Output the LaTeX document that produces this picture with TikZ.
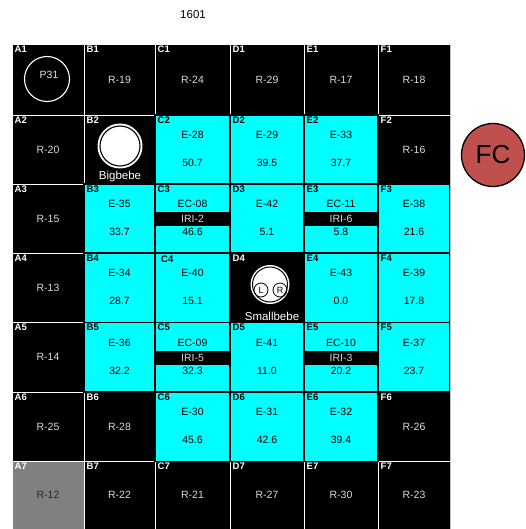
\documentclass[tikz,border=0pt]{standalone}
\usepackage{fontspec}
\setmainfont{Liberation Sans}
\definecolor{fcred}{HTML}{C0504D}
\definecolor{rgray}{HTML}{DADADA}
\definecolor{cellgray}{HTML}{808080}
\definecolor{aqua}{RGB}{0,255,255}
\newcommand\mycell[7]{%
  \node[cellbase,#6,minimum width=#4pt,minimum height=#5pt,anchor=north west] (#1) at (#2,#3) {};
  \node[#7,anchor=north west] (#1l) at ([xshift=2.5pt,yshift=-1.5pt]#1.north west) {#1};}
\newcommand\mycellnl[6]{%
  \node[cellbase,#6,minimum width=#4pt,minimum height=#5pt,anchor=north west] (#1) at (#2,#3) {};}
\newcommand\rtext[2]{\node[rtxt] (#1t) at (#1.center) {#2};}
\newcommand\etext[3]{%
  \node[etxt] (#1t) at ([yshift=-20pt]#1.north) {#2};
  \node[etxt] (#1v) at ([yshift=-48pt]#1.north) {#3};}
\newcommand\ectext[5]{% name, EC, IRI, value, width
  \node[etxt] (#1t) at ([yshift=-20pt]#1.north) {#2};
  \node[iribar,minimum width=#5pt] (#1b) at ([yshift=-35pt]#1.north) {#3};
  \node[etxt] (#1v) at ([yshift=-48pt]#1.north) {#4};}
\begin{document}
\begin{tikzpicture}[x=1pt,y=-1pt,
  cellbase/.style={rectangle,inner sep=0pt,outer sep=0pt},
  blk/.style={fill=black,draw=white,line width=0.7pt},
  gry/.style={fill=cellgray,draw=white,line width=0.7pt},
  cyn/.style={fill=aqua,draw=black,line width=1.3pt},
  labw/.style={inner sep=0pt,text=white,font=\bfseries\fontsize{9.5}{10}\selectfont},
  labk/.style={labw,text=black},
  rtxt/.style={inner sep=0pt,text=rgray,font=\fontsize{10.5}{12}\selectfont},
  etxt/.style={inner sep=0pt,text=black,font=\fontsize{10.5}{12}\selectfont},
  iribar/.style={cellbase,fill=black,text=rgray,font=\fontsize{10.5}{12}\selectfont,minimum height=14pt},
  wtxt/.style={inner sep=0pt,text=white,font=\fontsize{11.5}{13}\selectfont},
]
\useasboundingbox (0,0) rectangle (525,529);
\fill[black] (12,44) rectangle (450,529);
% ---- black / gray cells ----
\mycell{A1}{12}{44}{72}{71}{blk}{labw}
\mycell{B1}{84}{44}{71}{71}{blk}{labw}
\mycell{C1}{155}{44}{75}{71}{blk}{labw}
\mycell{D1}{230}{44}{74}{71}{blk}{labw}
\mycell{E1}{304}{44}{74}{71}{blk}{labw}
\mycell{F1}{378}{44}{72}{71}{blk}{labw}
\mycell{A2}{12}{115}{72}{69}{blk}{labw}
\mycell{B2}{84}{115}{71}{69}{blk}{labw}
\mycell{F2}{378}{115}{72}{69}{blk}{labw}
\mycell{A3}{12}{184}{72}{69}{blk}{labw}
\mycell{A4}{12}{253}{72}{69.5}{blk}{labw}
\mycell{D4}{230}{253}{74}{69.5}{blk}{labw}
\mycell{A5}{12}{322.5}{72}{69.5}{blk}{labw}
\mycell{A6}{12}{392}{72}{69.5}{blk}{labw}
\mycell{B6}{84}{392}{71}{69.5}{blk}{labw}
\mycell{F6}{378}{392}{72}{69.5}{blk}{labw}
\mycell{A7}{12}{461.5}{72}{67.5}{gry}{labw}
\mycell{B7}{84}{461.5}{71}{67.5}{blk}{labw}
\mycell{C7}{155}{461.5}{75}{67.5}{blk}{labw}
\mycell{D7}{230}{461.5}{74}{67.5}{blk}{labw}
\mycell{E7}{304}{461.5}{74}{67.5}{blk}{labw}
\mycell{F7}{378}{461.5}{72}{67.5}{blk}{labw}
% ---- cyan cells ----
\mycell{C2}{155}{115}{75}{69}{cyn}{labk}
\mycell{D2}{230}{115}{74}{69}{cyn}{labk}
\mycell{E2}{304}{115}{74}{69}{cyn}{labk}
\mycell{B3}{84}{184}{71}{69}{cyn}{labk}
\mycell{C3}{155}{184}{75}{69}{cyn}{labk}
\mycell{D3}{230}{184}{74}{69}{cyn}{labk}
\mycell{E3}{304}{184}{74}{69}{cyn}{labk}
\mycell{F3}{378}{184}{72}{69}{cyn}{labk}
\mycell{B4}{84}{253}{71}{69.5}{cyn}{labk}
\mycellnl{C4}{155}{253}{75}{69.5}{cyn}
\node[labk,anchor=north west] (C4l) at ([xshift=6pt,yshift=-3pt]C4.north west) {C4};
\mycell{E4}{304}{253}{74}{69.5}{cyn}{labk}
\mycell{F4}{378}{253}{72}{69.5}{cyn}{labk}
\mycell{B5}{84}{322.5}{71}{69.5}{cyn}{labk}
\mycell{C5}{155}{322.5}{75}{69.5}{cyn}{labk}
\mycell{D5}{230}{322.5}{74}{69.5}{cyn}{labk}
\mycell{E5}{304}{322.5}{74}{69.5}{cyn}{labk}
\mycell{F5}{378}{322.5}{72}{69.5}{cyn}{labk}
\mycell{C6}{155}{392}{75}{69.5}{cyn}{labk}
\mycell{D6}{230}{392}{74}{69.5}{cyn}{labk}
\mycell{E6}{304}{392}{74}{69.5}{cyn}{labk}
% ---- texts ----
\rtext{B1}{R-19}\rtext{C1}{R-24}\rtext{D1}{R-29}\rtext{E1}{R-17}\rtext{F1}{R-18}
\rtext{A2}{R-20}\rtext{F2}{R-16}
\rtext{A3}{R-15}\rtext{A4}{R-13}\rtext{A5}{R-14}
\rtext{A6}{R-25}\rtext{B6}{R-28}\rtext{F6}{R-26}
\node[rtxt,text=black!85] (A7t) at (A7.center) {R-12};
\rtext{B7}{R-22}\rtext{C7}{R-21}\rtext{D7}{R-27}\rtext{E7}{R-30}\rtext{F7}{R-23}
\etext{C2}{E-28}{50.7}\etext{D2}{E-29}{39.5}\etext{E2}{E-33}{37.7}
\etext{B3}{E-35}{33.7}\ectext{C3}{EC-08}{IRI-2}{46.6}{74}\etext{D3}{E-42}{5.1}
\ectext{E3}{EC-11}{IRI-6}{5.8}{73}\etext{F3}{E-38}{21.6}
\etext{B4}{E-34}{28.7}\etext{C4}{E-40}{15.1}\etext{E4}{E-43}{0.0}\etext{F4}{E-39}{17.8}
\etext{B5}{E-36}{32.2}\ectext{C5}{EC-09}{IRI-5}{32.3}{74}\etext{D5}{E-41}{11.0}
\ectext{E5}{EC-10}{IRI-3}{20.2}{73}\etext{F5}{E-37}{23.7}
\etext{C6}{E-30}{45.6}\etext{D6}{E-31}{42.6}\etext{E6}{E-32}{39.4}
% ---- circles ----
\node[circle,draw=white,line width=1.1pt,minimum size=45pt,inner sep=0pt] (P31c) at (47,79) {};
\node[rtxt,text=white!90!black] (P31t) at (49,75) {P31};
\node[circle,fill=white,minimum size=45pt,inner sep=0pt] (bigc) at (120,146) {};
\node[circle,draw=black,line width=1.1pt,minimum size=40pt,inner sep=0pt] (bigi) at (120,146) {};
\node[wtxt] (bigt) at (120,177) {Bigbebe};
\node[circle,fill=white,minimum size=39pt,inner sep=0pt] (smc) at (270,284.5) {};
\node[circle,draw=black,line width=1pt,minimum size=35pt,inner sep=0pt] (smi) at (270,284.5) {};
\node[circle,draw=black,line width=0.8pt,minimum size=14pt,inner sep=0pt,font=\fontsize{9}{10}\selectfont] (smL) at (261,290) {L};
\node[circle,draw=black,line width=0.8pt,minimum size=14pt,inner sep=0pt,font=\fontsize{9}{10}\selectfont] (smR) at (280,290) {R};
\node[wtxt] (smt) at (272,316) {Smallbebe};
\node[circle,fill=fcred,draw=black,line width=1.3pt,minimum size=63pt,inner sep=0pt,font=\fontsize{26}{28}\selectfont] (FC) at (493,155) {FC};
\node[inner sep=0pt,font=\fontsize{11.5}{13}\selectfont] (title) at (193,15) {1601};
\draw[gray!50,line width=1pt] (F1.north east) -- (F7.south east);
\end{tikzpicture}
\end{document}
